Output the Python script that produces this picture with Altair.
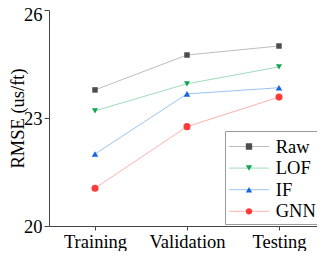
import altair as alt
import pandas as pd

categories = ["Training", "Validation", "Testing"]
methods = ["Raw", "LOF", "IF", "GNN"]
raw = [23.78, 24.75, 25.0]
lof = [23.2, 23.95, 24.42]
iforest = [22.0, 23.67, 23.84]
gnn = [21.05, 22.76, 23.58]

marker_colors = ["#4d4d4d", "#10a552", "#1565e0", "#ff3b3b"]
line_colors = ["#bdbdbd", "#9fdcbc", "#9cc4ef", "#ffb0b0"]
shapes = ["square", "triangle-down", "triangle-up", "circle"]
sizes = [30, 50, 50, 36]

rows = []
for m, vals in zip(methods, [raw, lof, iforest, gnn]):
    for c, v in zip(categories, vals):
        rows.append({"set": c, "method": m, "line_method": m, "size_method": m, "rmse": v})
df = pd.DataFrame(rows)

FONT = "Liberation Serif"
FS = 18.5
AX = "#444444"

x = alt.X(
    "set:N", sort=categories,
    scale=alt.Scale(type="point", padding=0.4565, align=0.5476),
    axis=alt.Axis(title=None, labelFont=FONT, labelFontSize=FS, labelColor="black",
                  labelAngle=0, tickSize=4, labelPadding=17, labelBaseline="alphabetic",
                  domainColor=AX, tickColor=AX, grid=False),
)
y = alt.Y(
    "rmse:Q",
    scale=alt.Scale(domain=[20, 26], nice=False, zero=False),
    axis=alt.Axis(values=[20, 23, 26], title="RMSE (us/ft)", titleFont=FONT,
                  titleFontSize=FS, titleFontWeight="normal", titleColor="black",
                  titleX=-26, titleY=108, titleAngle=-90, titleAlign="center",
                  titleBaseline="alphabetic",
                  labelFont=FONT, labelFontSize=FS, labelColor="black",
                  labelOffset={"condition": {"test": "datum.value == 26", "value": 4}, "value": 0},
                  tickSize=5, labelPadding=2, domainColor=AX, tickColor=AX, grid=False),
)

common = dict(orient="none", legendX=176, legendY=121, padding=3, clipHeight=19,
              rowPadding=2.6, labelFont=FONT, labelFontSize=FS, title=" ",
              titleFontSize=2, titlePadding=1)

line_legend = alt.Legend(symbolType="stroke", symbolSize=1600, symbolStrokeWidth=1,
                         symbolOffset=0.5, labelExpr="''", labelOffset=0, **common)
point_legend = alt.Legend(symbolSize=40, symbolStrokeWidth=0, symbolOffset=11.75,
                          labelOffset=17.5, labelColor="black", strokeColor="#9a9a9a",
                          **common)

lines = alt.Chart(df).mark_line(strokeWidth=1).encode(
    x=x, y=y,
    stroke=alt.Stroke("line_method:N", sort=methods,
                      scale=alt.Scale(range=line_colors),
                      legend=line_legend),
)
points = alt.Chart(df).mark_point(filled=True, opacity=1).encode(
    x=x, y=y,
    fill=alt.Fill("method:N", sort=methods,
                  scale=alt.Scale(domain=methods, range=marker_colors),
                  legend=point_legend),
    shape=alt.Shape("method:N", sort=methods,
                    scale=alt.Scale(domain=methods, range=shapes),
                    legend=point_legend),
    size=alt.Size("size_method:N", sort=methods, scale=alt.Scale(range=sizes), legend=None),
)

chart = alt.layer(lines, points).properties(
    width=268, height=216,
    autosize=alt.AutoSizeParams(type="none"),
    padding={"left": 41, "top": 2, "right": 0, "bottom": 25},
    background="white",
).configure_view(stroke=None)

chart.save("out.html", embed_options={"renderer": "svg", "actions": False})
